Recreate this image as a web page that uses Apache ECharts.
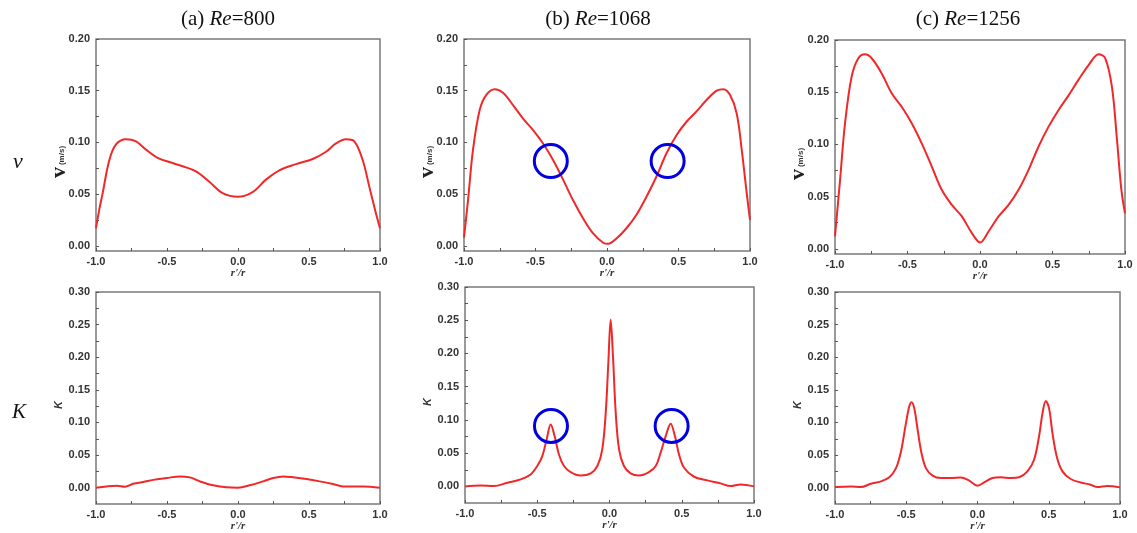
<!DOCTYPE html>
<html>
<head>
<meta charset="utf-8">
<script src="https://cdn.jsdelivr.net/npm/echarts@6/dist/echarts.min.js"></script>
<style>
html, body { margin: 0; padding: 0; background: #fff; }
#main { width: 1137px; height: 533px; }
</style>
</head>
<body>
<div id="main"></div>
<script>
// velocity profiles v (m/s) vs r'/r
const vaX = [-1, -0.977, -0.953, -0.906, -0.859, -0.789, -0.718, -0.648, -0.566, -0.484, -0.39, -0.296, -0.202, -0.108, 0, 0.103, 0.197, 0.291, 0.408, 0.526, 0.62, 0.69, 0.76, 0.819, 0.878, 0.925, 0.972, 1]
const vaY = [0.017, 0.035, 0.051, 0.083, 0.098, 0.103, 0.101, 0.093, 0.085, 0.081, 0.077, 0.072, 0.062, 0.051, 0.0475, 0.052, 0.064, 0.073, 0.079, 0.084, 0.091, 0.099, 0.103, 0.101, 0.083, 0.057, 0.031, 0.017]

const vbX = [-1, -0.972, -0.937, -0.89, -0.844, -0.785, -0.727, -0.657, -0.587, -0.517, -0.447, -0.377, -0.307, -0.237, -0.167, -0.097, -0.027, 0.008, 0.066, 0.136, 0.206, 0.276, 0.346, 0.416, 0.486, 0.556, 0.626, 0.696, 0.767, 0.813, 0.86, 0.907, 0.942, 0.977, 1]
const vbY = [0.008, 0.044, 0.093, 0.1315, 0.146, 0.1515, 0.148, 0.136, 0.123, 0.112, 0.099, 0.083, 0.064, 0.044, 0.0265, 0.012, 0.003, 0.002, 0.007, 0.017, 0.030, 0.0475, 0.067, 0.0895, 0.107, 0.120, 0.130, 0.141, 0.150, 0.1515, 0.146, 0.128, 0.093, 0.051, 0.025]

const vcX = [-1, -0.965, -0.931, -0.885, -0.839, -0.793, -0.747, -0.678, -0.609, -0.54, -0.47, -0.402, -0.333, -0.264, -0.194, -0.125, -0.056, 0.001, 0.059, 0.128, 0.197, 0.266, 0.335, 0.404, 0.473, 0.542, 0.611, 0.68, 0.749, 0.818, 0.864, 0.91, 0.945, 0.975, 1]
const vcY = [0.012, 0.066, 0.120, 0.165, 0.1825, 0.1863, 0.1825, 0.168, 0.149, 0.136, 0.120, 0.101, 0.079, 0.0565, 0.042, 0.031, 0.015, 0.006, 0.0166, 0.031, 0.042, 0.0565, 0.0756, 0.098, 0.117, 0.133, 0.147, 0.162, 0.176, 0.1863, 0.1825, 0.155, 0.104, 0.0565, 0.034]

// K profiles
const kaX = [-1, -0.925, -0.855, -0.796, -0.737, -0.667, -0.597, -0.503, -0.409, -0.339, -0.268, -0.175, -0.081, 0, 0.083, 0.177, 0.247, 0.318, 0.376, 0.482, 0.575, 0.669, 0.74, 0.81, 0.88, 1]
const kaY = [0, 0.002, 0.003, 0.0015, 0.006, 0.0087, 0.012, 0.0148, 0.0173, 0.0158, 0.0097, 0.0036, 0.0005, 0, 0.0036, 0.0097, 0.0148, 0.0173, 0.0163, 0.0132, 0.0097, 0.0056, 0.002, 0.002, 0.002, 0]

const kbX = [-1, -0.892, -0.8, -0.707, -0.615, -0.546, -0.5, -0.465, -0.435, -0.407, -0.38, -0.35, -0.315, -0.269, -0.2, -0.13, -0.084, -0.05, -0.026, -0.008, 0.008, 0.024, 0.043, 0.066, 0.1, 0.146, 0.204, 0.273, 0.32, 0.354, 0.389, 0.423, 0.453, 0.481, 0.516, 0.585, 0.677, 0.769, 0.838, 0.908, 1]
const kbY = [0, 0.0015, 0.0005, 0.0055, 0.0105, 0.018, 0.0306, 0.0456, 0.0707, 0.0933, 0.0757, 0.048, 0.0306, 0.0216, 0.0165, 0.0196, 0.0306, 0.0557, 0.111, 0.186, 0.251, 0.196, 0.111, 0.0557, 0.0306, 0.0196, 0.0165, 0.0216, 0.0306, 0.0507, 0.0757, 0.0943, 0.0757, 0.048, 0.028, 0.0145, 0.009, 0.0045, 0.0005, 0.003, 0]

const kcX = [-1, -0.888, -0.818, -0.748, -0.678, -0.619, -0.572, -0.537, -0.502, -0.479, -0.463, -0.444, -0.42, -0.393, -0.362, -0.315, -0.257, -0.187, -0.117, -0.058, 0, 0.047, 0.105, 0.164, 0.234, 0.292, 0.35, 0.397, 0.432, 0.456, 0.479, 0.502, 0.526, 0.556, 0.596, 0.654, 0.724, 0.794, 0.841, 0.911, 1]
const kcY = [0.001, 0.002, 0.001, 0.006, 0.0097, 0.016, 0.030, 0.0556, 0.099, 0.1245, 0.131, 0.122, 0.0888, 0.053, 0.030, 0.0184, 0.0148, 0.0148, 0.0158, 0.0107, 0.003, 0.008, 0.0148, 0.016, 0.0148, 0.016, 0.025, 0.0429, 0.0786, 0.114, 0.133, 0.122, 0.0837, 0.048, 0.025, 0.0133, 0.008, 0.0046, 0.001, 0.0026, 0.0005]

// marked points (blue circles) in panel (b)
const circleV = [[-0.393, 0.082], [0.424, 0.082]]
const circleK = [[-0.405, 0.091], [0.43, 0.091]]

const titles = ['(a) ', '(b) ', '(c) ']
const reNumbers = ['800', '1068', '1256']
const xTicks = [-1, -0.75, -0.5, -0.25, 0, 0.25, 0.5, 0.75, 1]
const vLabels = [0, 0.05, 0.1, 0.15, 0.2]
const vTicks = [0, 0.025, 0.05, 0.075, 0.1, 0.125, 0.15, 0.175, 0.2]
const kLabels = [0, 0.05, 0.1, 0.15, 0.2, 0.25, 0.3]
const kTicks = [0, 0.025, 0.05, 0.075, 0.1, 0.125, 0.15, 0.175, 0.2, 0.225, 0.25, 0.275, 0.3]

const zip = (xs, ys) => xs.map((x, i) => [x, ys[i]])

const panels = [
  { grid: { left: 96, top: 39, width: 284, height: 212 }, data: zip(vaX, vaY), kind: 'v' },
  { grid: { left: 464, top: 39, width: 286, height: 212 }, data: zip(vbX, vbY), kind: 'v', circles: circleV },
  { grid: { left: 835, top: 40, width: 290, height: 214 }, data: zip(vcX, vcY), kind: 'v' },
  { grid: { left: 96, top: 292, width: 284, height: 212 }, data: zip(kaX, kaY), kind: 'k' },
  { grid: { left: 465, top: 287, width: 289, height: 216 }, data: zip(kbX, kbY), kind: 'k', circles: circleK },
  { grid: { left: 835, top: 292, width: 285, height: 212 }, data: zip(kcX, kcY), kind: 'k' }
]

const labelFont = {
  fontFamily: 'Liberation Sans',
  fontWeight: 'bold',
  fontSize: 11,
  color: '#333'
}
const tickStyle = { show: true, inside: true, length: 3, lineStyle: { color: '#555', width: 1 } }

const grid = [], xAxis = [], yAxis = [], series = []
panels.forEach((p, i) => {
  grid.push(Object.assign({ show: true, borderColor: '#7a7a7a', borderWidth: 1.5 }, p.grid))
  xAxis.push({
    gridIndex: i,
    type: 'value',
    min: -1,
    max: 1,
    interval: 0.5,
    name: "r'/r",
    nameLocation: 'middle',
    nameGap: 17,
    nameMoveOverlap: false,
    nameTextStyle: { fontFamily: 'Liberation Serif', fontStyle: 'italic', fontWeight: 'bold', fontSize: 11, color: '#333' },
    axisLine: { show: false, onZero: false },
    axisTick: Object.assign({ customValues: xTicks }, tickStyle),
    splitLine: { show: false },
    axisLabel: Object.assign({ margin: 5, formatter: v => v.toFixed(1) }, labelFont)
  })
  const isV = p.kind === 'v'
  yAxis.push({
    gridIndex: i,
    type: 'value',
    min: isV ? -0.005 : -0.025,
    max: isV ? 0.2 : 0.3,
    name: isV ? '{v|v}{u|(m/s)}' : 'K',
    nameLocation: 'middle',
    nameRotate: 90,
    nameGap: isV ? 26 : 32,
    nameMoveOverlap: false,
    nameTextStyle: isV
      ? {
          padding: [0, 34, 0, 0],
          rich: {
            v: { fontFamily: 'Liberation Serif', fontWeight: 'bold', fontSize: 22, color: '#222' },
            u: { fontFamily: 'Liberation Sans', fontWeight: 'bold', fontSize: 8, color: '#333', padding: [6, 0, 0, 2] }
          }
        }
      : { fontFamily: 'Liberation Sans', fontStyle: 'italic', fontWeight: 'bold', fontSize: 11, color: '#333', padding: [0, 14, 0, 0] },
    axisLine: { show: false, onZero: false },
    axisTick: Object.assign({ customValues: isV ? vTicks : kTicks }, tickStyle),
    splitLine: { show: false },
    axisLabel: Object.assign({ margin: 6, customValues: isV ? vLabels : kLabels, formatter: v => v.toFixed(2) }, labelFont)
  })
  series.push({
    type: 'line',
    xAxisIndex: i,
    yAxisIndex: i,
    data: p.data,
    smooth: 0.35,
    symbol: 'none',
    lineStyle: { color: '#f0282a', width: 2 },
    z: 2
  })
  if (p.circles) {
    series.push({
      type: 'scatter',
      xAxisIndex: i,
      yAxisIndex: i,
      data: p.circles,
      symbol: 'circle',
      symbolSize: 33,
      itemStyle: { color: 'rgba(0,0,0,0)', borderColor: '#0000e0', borderWidth: 3, opacity: 1 },
      z: 3
    })
  }
})

const titleRich = {
  n: { fontFamily: 'Liberation Serif', fontWeight: 'normal', fontSize: 21, color: '#111' },
  i: { fontFamily: 'Liberation Serif', fontStyle: 'italic', fontWeight: 'normal', fontSize: 21, color: '#111' }
}
const titleX = [223, 593, 963]
const title = titles.map((t, i) => ({
  text: '{n|' + t + '}{i|Re}{n|=' + reNumbers[i] + '}',
  left: titleX[i],
  top: 4,
  textAlign: 'center',
  textStyle: { fontWeight: 'normal', rich: titleRich }
}))
title.push(
  { text: 'v', left: 8, top: 146, textStyle: { fontFamily: 'Liberation Serif', fontStyle: 'italic', fontWeight: 'normal', fontSize: 22, color: '#111' } },
  { text: 'K', left: 7, top: 397, textStyle: { fontFamily: 'Liberation Serif', fontStyle: 'italic', fontWeight: 'normal', fontSize: 21, color: '#111' } }
)

const chart = echarts.init(document.getElementById('main'), null, { renderer: 'canvas' })
chart.setOption({
  animation: false,
  backgroundColor: '#fff',
  title: title,
  grid: grid,
  xAxis: xAxis,
  yAxis: yAxis,
  series: series
})
</script>
</body>
</html>
